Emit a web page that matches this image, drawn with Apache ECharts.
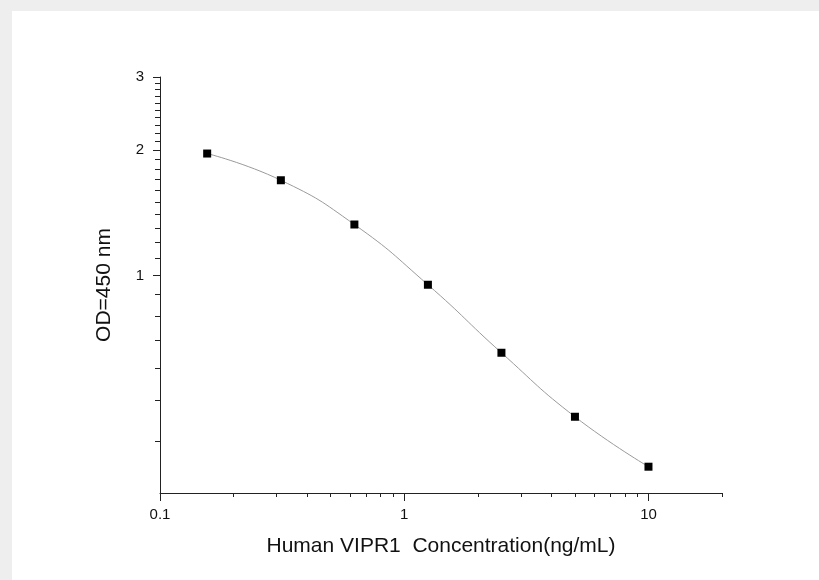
<!DOCTYPE html>
<html>
<head>
<meta charset="utf-8">
<script src="https://cdn.jsdelivr.net/npm/echarts@6/dist/echarts.min.js"></script>
<style>
  html, body { margin: 0; padding: 0; background: #eeeeee; }
  #panel { position: absolute; left: 12px; top: 11px; width: 807px; height: 569px; background: #fff; }
  #main { position: absolute; left: 0; top: 0; width: 819px; height: 580px; }
</style>
</head>
<body>
<div id="panel"></div>
<div id="main"></div>
<script>
// concentration (ng/mL) and OD readings
const conc = [0.156, 0.3125, 0.625, 1.25, 2.5, 5, 10];
const od = [1.964, 1.694, 1.326, 0.95, 0.652, 0.4575, 0.347];

// tick values
const xMajor = [0.1, 1, 10];
const xMinor = [0.2, 0.3, 0.4, 0.5, 0.6, 0.7, 0.8, 0.9, 2, 3, 4, 5, 6, 7, 8, 9, 20];
const yMajor = [1, 2, 3];
const yMinor = [0.4, 0.5, 0.6, 0.7, 0.8, 0.9, 1.1, 1.2, 1.3, 1.4, 1.5, 1.6, 1.7, 1.8, 1.9,
  2.1, 2.2, 2.3, 2.4, 2.5, 2.6, 2.7, 2.8, 2.9];

const axisColor = "#222";
const fontFam = "Liberation Sans, Arial, sans-serif";

let myChart = echarts.init(document.getElementById("main"));
myChart.setOption({
  animation: false,
  backgroundColor: "transparent",
  grid: { left: 160, top: 77, right: 97, bottom: 87 },
  xAxis: [
    {
      type: "log",
      min: 0.1,
      max: 20,
      position: "bottom",
      name: "Human VIPR1  Concentration(ng/mL)",
      nameLocation: "middle",
      nameGap: 43,
      nameTextStyle: { fontFamily: fontFam, fontSize: 21, color: "#111" },
      axisLine: { show: true, lineStyle: { color: axisColor, width: 1 } },
      axisTick: { show: true, customValues: xMajor, length: 8, lineStyle: { color: axisColor } },
      axisLabel: {
        customValues: xMajor,
        margin: 14,
        fontFamily: fontFam,
        fontSize: 15,
        color: "#111",
        formatter: function (v) { return String(v); },
      },
      splitLine: { show: false },
    },
    {
      // minor ticks only
      type: "log",
      min: 0.1,
      max: 20,
      position: "bottom",
      offset: 0,
      axisLine: { show: false },
      axisTick: { show: true, customValues: xMinor, length: 4, lineStyle: { color: axisColor } },
      axisLabel: { show: false },
      splitLine: { show: false },
    },
  ],
  yAxis: [
    {
      type: "log",
      min: 0.3,
      max: 3,
      position: "left",
      name: "OD=450 nm",
      nameLocation: "middle",
      nameGap: 45,
      nameTextStyle: { fontFamily: fontFam, fontSize: 21, color: "#111" },
      axisLine: { show: true, lineStyle: { color: axisColor, width: 1 } },
      axisTick: { show: true, customValues: yMajor, length: 7, lineStyle: { color: axisColor } },
      axisLabel: {
        customValues: yMajor,
        margin: 16,
        fontFamily: fontFam,
        fontSize: 15,
        color: "#111",
        formatter: function (v) { return String(v); },
      },
      splitLine: { show: false },
    },
    {
      // minor ticks only
      type: "log",
      min: 0.3,
      max: 3,
      position: "left",
      offset: 0,
      axisLine: { show: false },
      axisTick: { show: true, customValues: yMinor, length: 5, lineStyle: { color: axisColor } },
      axisLabel: { show: false },
      splitLine: { show: false },
    },
  ],
  series: [
    {
      type: "line",
      xAxisIndex: 0,
      yAxisIndex: 0,
      data: conc.map((c, i) => [c, od[i]]),
      smooth: true,
      symbol: "rect",
      symbolSize: 8,
      itemStyle: { color: "#000" },
      lineStyle: { color: "#9a9a9a", width: 1 },
      z: 5,
    },
  ],
});
</script>
</body>
</html>
